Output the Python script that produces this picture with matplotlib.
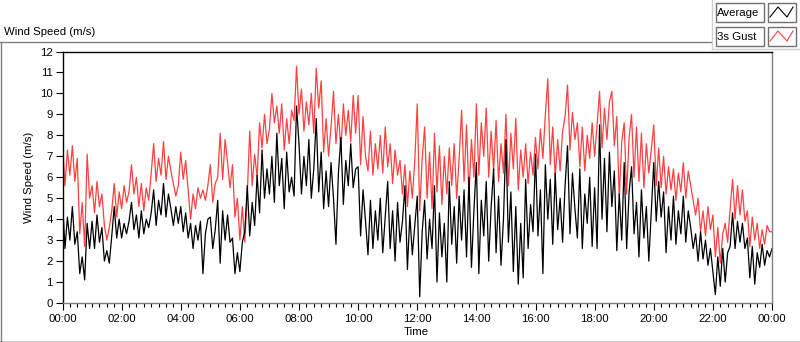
import numpy as np
import matplotlib.pyplot as plt
from matplotlib.patches import Rectangle
from matplotlib.ticker import MultipleLocator, FixedLocator, FixedFormatter

plt.rcParams['font.family'] = ['Liberation Sans', 'DejaVu Sans']
FS = 8.2

# 5-minute samples, 00:00 .. 24:00 (m/s)
gust = [
    7.6, 5.6, 7.3, 6.1, 7.5, 5.8, 6.9, 3.3, 4.8, 2.7, 7.1, 5.0,
    5.6, 4.3, 5.8, 4.6, 5.2, 3.7, 3.0, 3.6, 4.4, 5.7, 4.1, 5.3,
    4.5, 5.6, 4.8, 5.3, 6.6, 5.2, 6.0, 4.6, 5.7, 4.4, 5.5, 4.9,
    6.2, 7.6, 5.8, 6.9, 6.1, 7.7, 5.9, 7.0, 6.3, 5.7, 5.1, 5.6,
    7.2, 5.9, 6.8, 5.4, 4.0, 5.2, 4.5, 5.5, 5.0, 5.4, 4.9, 5.6,
    6.6, 4.8, 5.7, 6.0, 8.1, 5.9, 7.8, 6.7, 5.5, 6.6, 4.1, 5.0,
    3.0, 4.6, 2.9, 5.2, 8.2, 5.6, 7.1, 6.0, 8.6, 7.4, 9.0, 7.6,
    8.3, 10.0, 8.6, 9.4, 8.1, 9.5, 7.3, 8.8, 7.6, 9.2, 8.7, 11.3,
    9.0, 10.2, 8.2, 9.6, 8.5, 10.0, 8.1, 11.2, 9.3, 10.6, 7.2, 8.8,
    7.0, 8.4, 10.1, 7.6, 9.0, 7.3, 9.5, 8.0, 9.2, 7.7, 9.9, 8.1,
    9.9, 6.6, 8.9, 7.0, 6.3, 8.2, 6.1, 7.6, 6.4, 8.0, 6.2, 8.4,
    6.5, 7.6, 5.7, 7.3, 6.1, 6.8, 5.2, 6.6, 4.6, 6.3, 5.0, 6.8,
    9.5, 4.4, 6.9, 8.4, 5.0, 7.2, 4.5, 8.1, 5.3, 7.5, 4.7, 7.0,
    5.2, 7.4, 5.6, 7.6, 5.0, 6.9, 9.2, 5.8, 8.5, 5.1, 7.8, 6.0,
    9.5, 6.1, 8.6, 7.0, 9.3, 6.0, 8.2, 6.3, 8.7, 5.8, 7.6, 6.2,
    9.0, 5.6, 8.1, 6.4, 8.8, 5.4, 7.3, 6.0, 7.6, 5.7, 7.2, 6.1,
    7.9, 6.4, 8.3, 6.9, 9.0, 10.7, 6.6, 8.4, 6.0, 7.8, 6.3, 8.2,
    8.9, 10.4, 7.3, 9.1, 7.8, 8.6, 6.5, 8.4, 6.3, 8.0, 6.9, 8.6,
    7.0, 8.5, 10.1, 7.4, 9.3, 7.8, 9.6, 10.1, 7.5, 8.9, 5.0, 7.7,
    8.6, 5.2, 7.9, 9.0, 6.0, 8.4, 5.8, 8.1, 5.5, 7.6, 6.2, 7.3,
    8.5, 5.6, 7.4, 5.5, 7.0, 5.2, 6.5, 5.4, 6.4, 4.9, 6.2, 5.3,
    6.7, 5.0, 6.3, 5.6, 4.9, 4.2, 5.0, 3.4, 4.4, 3.2, 4.6, 3.5,
    4.2, 2.2, 3.6, 1.9, 3.3, 3.8, 2.9, 4.5, 5.9, 4.0, 5.6, 4.2,
    5.4, 3.9, 4.4, 2.7, 4.1, 3.0, 3.8, 2.6, 3.5, 2.8, 3.7, 3.4,
    3.4,
]
average = [
    4.9, 2.6, 4.1, 3.0, 4.6, 2.8, 3.4, 1.4, 2.2, 1.1, 3.8, 2.6,
    3.9, 2.6, 4.2, 2.9, 3.6, 2.0, 2.5, 1.9, 3.2, 4.6, 3.1, 4.0,
    3.1, 3.8, 3.3, 3.9, 4.8, 3.5, 4.2, 3.1, 4.4, 3.3, 4.0, 3.6,
    4.3, 5.4, 3.7, 4.9, 4.2, 5.7, 4.1, 5.2, 4.5, 3.7, 4.6, 3.8,
    4.6, 3.4, 4.3, 3.1, 3.8, 2.6, 3.7, 3.0, 3.9, 1.4, 3.3, 4.0,
    4.1, 2.6, 3.5, 4.9, 1.9, 4.4, 3.0, 4.2, 2.9, 3.1, 1.4, 2.4,
    1.5, 2.9, 3.4, 5.6, 3.2, 4.8, 3.7, 6.1, 4.3, 7.3, 5.0, 6.4,
    5.2, 7.0, 4.8, 8.1, 5.6, 6.9, 4.5, 7.2, 5.3, 6.0, 5.1, 9.4,
    7.6, 5.2, 7.0, 5.6, 7.8, 5.0, 6.4, 8.8, 5.3, 7.2, 4.5, 6.3,
    4.6, 6.7, 5.0, 2.8, 6.2, 7.9, 4.7, 6.8, 5.6, 7.6, 5.5, 6.4,
    6.5, 3.2, 5.4, 3.9, 2.3, 4.9, 2.6, 4.4, 3.0, 5.0, 2.4, 4.1,
    5.8, 2.6, 4.4, 2.0, 4.8, 2.9, 3.9, 5.6, 1.6, 4.2, 2.3, 3.7,
    5.1, 0.3, 3.4, 4.9, 2.1, 4.0, 2.6, 5.6, 1.0, 4.3, 2.2, 3.8,
    1.0, 5.8, 2.8, 4.6, 1.9, 5.1, 3.0, 5.4, 2.2, 6.0, 1.7, 4.4,
    6.7, 1.4, 4.9, 3.2, 5.8, 2.0, 4.6, 6.4, 2.4, 5.1, 1.8, 4.0,
    7.8, 2.9, 5.3, 1.5, 4.6, 0.9, 3.8, 1.2, 5.9, 2.6, 4.7, 3.4,
    7.1, 3.2, 5.4, 1.4, 6.6, 4.0, 5.9, 2.8, 6.2, 3.5, 5.0, 2.9,
    5.6, 7.5, 3.3, 6.2, 4.5, 3.1, 6.4, 2.6, 5.2, 3.8, 6.0, 2.7,
    5.5, 2.6, 8.5, 4.0, 6.9, 3.4, 7.2, 4.6, 6.3, 2.5, 5.2, 3.0,
    6.7, 2.6, 5.3, 6.5, 3.3, 4.8, 2.2, 5.4, 3.1, 4.6, 2.0, 4.3,
    6.7, 3.9, 5.8, 4.1, 5.3, 2.4, 4.6, 3.0, 5.1, 2.8, 4.4, 3.3,
    5.1, 2.9, 4.4, 3.6, 2.6, 3.3, 2.0, 3.4, 2.1, 3.0, 1.8, 2.6,
    1.5, 0.4, 2.2, 0.8, 2.6, 1.0, 2.4, 2.7, 4.3, 2.6, 3.9, 2.9,
    3.8, 2.6, 3.1, 1.2, 2.7, 0.9, 2.4, 1.7, 2.8, 1.8, 2.5, 2.2,
    2.6,
]
hour_ticks = [0, 2, 4, 6, 8, 10, 12, 14, 16, 18, 20, 22, 24]
hour_labels = ["00:00", "02:00", "04:00", "06:00", "08:00", "10:00", "12:00",
               "14:00", "16:00", "18:00", "20:00", "22:00", "00:00"]
series_names = ["Average", "3s Gust"]
series_colors = ["#000000", "#ff4040"]

hours = np.arange(len(gust)) * 5 / 60

W, H = 800, 342
fig = plt.figure(figsize=(W / 100, H / 100), dpi=100)

# page decoration in pixel coords
deco = fig.add_axes([0, 0, 1, 1])
deco.set_xlim(0, W)
deco.set_ylim(H, 0)
deco.axis("off")
deco.plot([0.5, 0.5], [42, H], color="#808080", lw=1)
deco.plot([0, 711], [42, 42], color="#808080", lw=1)
deco.plot([0, W], [341.5, 341.5], color="#000000", lw=1)
deco.plot([711.5, 711.5], [0, 49], color="#d0d0d0", lw=1)
deco.plot([711.5, W], [49, 49], color="#d0d0d0", lw=1)

# legend
for i, (name, col) in enumerate(zip(series_names, series_colors)):
    y0 = 3 + i * 24
    deco.add_patch(Rectangle((715.5, y0), 48, 19, facecolor="white", edgecolor="#707070", lw=1))
    deco.add_patch(Rectangle((767.5, y0), 28, 19, facecolor="white", edgecolor="#707070", lw=1))
    deco.text(717, y0 + 10, name, fontsize=FS, va="center", ha="left")
    deco.plot([770, 778, 787, 793], [y0 + 14, y0 + 4, y0 + 14, y0 + 4], color=col, lw=0.8)

fig.text(4 / W, 1 - 32 / H, "Wind Speed (m/s)", fontsize=FS, va="center", ha="left")
fig.text(29 / W, 1 - 177 / H, "Wind Speed (m/s)", fontsize=FS, va="center", ha="center", rotation=90)
fig.text(416 / W, 1 - 332 / H, "Time", fontsize=FS, va="center", ha="center")

ax = fig.add_axes([62.5 / W, (H - 303) / H, (772 - 62.5) / W, (303 - 51.5) / H])
ax.plot(hours, gust, color=series_colors[1], lw=0.9)
ax.plot(hours, average, color=series_colors[0], lw=0.9)
ax.set_xlim(0, 24)
ax.set_ylim(0, 12)

ax.yaxis.set_major_locator(MultipleLocator(1))
ax.xaxis.set_major_locator(FixedLocator(hour_ticks))
ax.xaxis.set_major_formatter(FixedFormatter(hour_labels))
ax.xaxis.set_minor_locator(MultipleLocator(0.25))
ax.tick_params(axis="y", length=5, width=0.8, pad=2, labelsize=FS)
ax.tick_params(axis="x", which="major", length=5, width=0.8, pad=3, labelsize=FS)
ax.tick_params(axis="x", which="minor", length=3, width=0.8)

for side in ["top", "left"]:
    ax.spines[side].set_color("#000000")
for side in ["bottom", "right"]:
    ax.spines[side].set_color("#808080")
for s in ax.spines.values():
    s.set_linewidth(1)

fig.savefig("out.png", dpi=100)
